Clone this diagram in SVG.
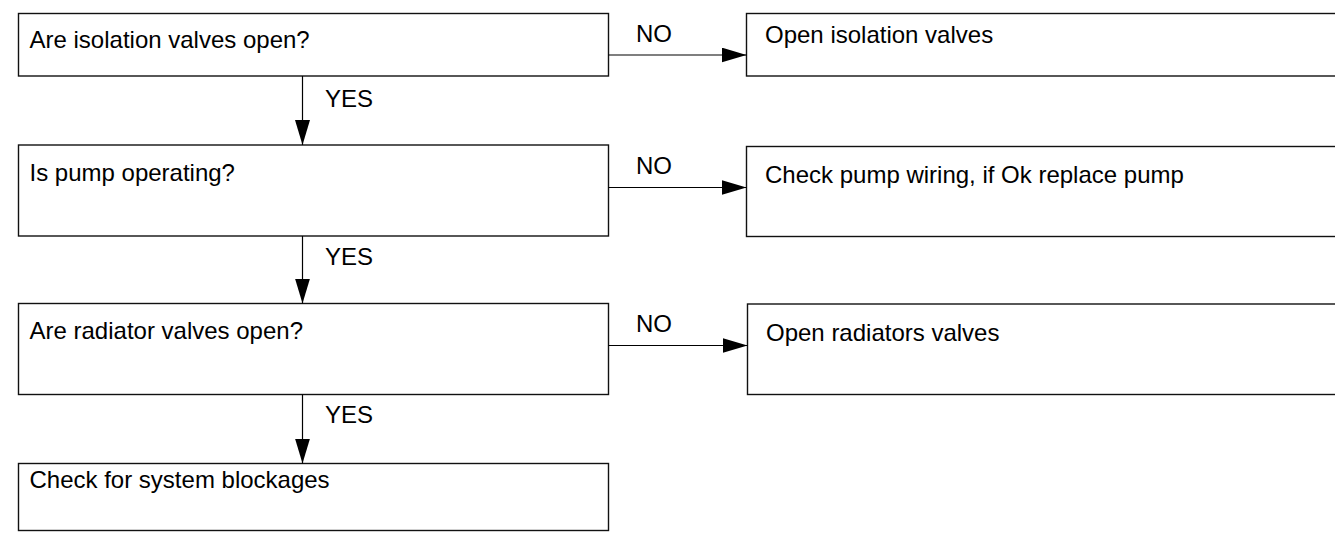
<svg xmlns="http://www.w3.org/2000/svg" width="1335" height="540" viewBox="0 0 1335 540">
<defs>
<style>
.box{fill:#fff;stroke:#111;stroke-width:1.4}
.t{font-family:"Liberation Sans",Arial,sans-serif;font-size:24px;fill:#000}
.c{stroke:#000;stroke-width:1.2;fill:none}
</style>
<marker id="ah" markerUnits="userSpaceOnUse" markerWidth="25" markerHeight="15" refX="25" refY="7.5" orient="auto">
<path d="M0,0 L25,7.5 L0,15 Z" fill="#000"/>
</marker>
</defs>
<rect width="1335" height="540" fill="#fff"/>
<g id="n1"><rect class="box" x="18.5" y="13.5" width="590" height="62.5"/><text class="t" x="29.5" y="48">Are isolation valves open?</text></g>
<g id="n2"><rect class="box" x="18.5" y="145" width="590" height="91"/><text class="t" x="29.5" y="181">Is pump operating?</text></g>
<g id="n3"><rect class="box" x="18.5" y="303.5" width="590" height="91"/><text class="t" x="29.5" y="339">Are radiator valves open?</text></g>
<g id="n4"><rect class="box" x="18.5" y="463.5" width="590" height="67"/><text class="t" x="29.5" y="488">Check for system blockages</text></g>
<g id="r1"><rect class="box" x="746.5" y="13.5" width="700" height="62.5"/><text class="t" x="765" y="43">Open isolation valves</text></g>
<g id="r2"><rect class="box" x="746.5" y="146.5" width="700" height="90"/><text class="t" x="765" y="183">Check pump wiring, if Ok replace pump</text></g>
<g id="r3"><rect class="box" x="747.5" y="304" width="700" height="90.5"/><text class="t" x="766" y="340.5">Open radiators valves</text></g>
<g id="connectors">
<path class="c" d="M302.5,76 V145" marker-end="url(#ah)"/>
<path class="c" d="M302.5,236 V303.5" marker-end="url(#ah)"/>
<path class="c" d="M302.5,394.5 V463.5" marker-end="url(#ah)"/>
<path class="c" d="M608.5,55 H746.5" marker-end="url(#ah)"/>
<path class="c" d="M608.5,187.5 H746.5" marker-end="url(#ah)"/>
<path class="c" d="M608.5,345.5 H747.5" marker-end="url(#ah)"/>
<text class="t" x="325" y="106.5">YES</text>
<text class="t" x="325" y="265">YES</text>
<text class="t" x="325" y="422.5">YES</text>
<text class="t" x="636" y="41.5">NO</text>
<text class="t" x="636" y="173.5">NO</text>
<text class="t" x="636" y="331.5">NO</text>
</g>
</svg>
